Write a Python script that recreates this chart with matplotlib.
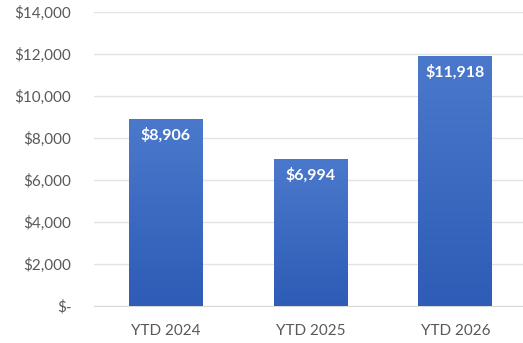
import matplotlib.pyplot as plt
import numpy as np
from matplotlib.colors import LinearSegmentedColormap
from matplotlib.ticker import FuncFormatter

categories = ['YTD 2024', 'YTD 2025', 'YTD 2026']
values = [8906, 6994, 11918]

plt.rcParams['font.family'] = ['Lato', 'DejaVu Sans']

fig = plt.figure(figsize=(5.23, 3.43), dpi=100)
ax = fig.add_axes([0.179, 0.108, 0.83, 0.857])

x = np.arange(len(categories))
bars = ax.bar(x, values, width=0.51, color='#3a68c0', zorder=2)

# vertical blue gradient inside each bar
cmap = LinearSegmentedColormap.from_list('blues', ['#2e5cb6', '#4a79cc'])
grad = np.linspace(0, 1, 256).reshape(-1, 1)
for b in bars:
    bx, by = b.get_x(), b.get_y()
    w, h = b.get_width(), b.get_height()
    im = ax.imshow(grad, cmap=cmap, origin='lower', aspect='auto',
                   extent=[bx, bx + w, by, by + h], zorder=3)
    im.set_clip_path(b)

for xi, v in zip(x, values):
    ax.text(xi, v - 400, f'${v:,}', ha='center', va='top', color='white',
            fontsize=11.5, fontweight='bold', zorder=4)

ax.set_xlim(-0.5, 2.5)
ax.set_ylim(0, 14000)
ax.set_yticks(np.arange(0, 14001, 2000))
ax.yaxis.set_major_formatter(FuncFormatter(lambda v, p: '$-' if v == 0 else f'${v:,.0f}'))
ax.set_xticks(x)
ax.set_xticklabels(categories)

ax.grid(axis='y', color='#e3e3e3', linewidth=1, zorder=0)
for s in ['top', 'right', 'left']:
    ax.spines[s].set_visible(False)
ax.spines['bottom'].set_color('#d9d9d9')
ax.tick_params(length=0, labelsize=11, colors='#595959')
ax.tick_params(axis='x', pad=13)
ax.tick_params(axis='y', pad=16)

fig.savefig('out.png', dpi=100)
